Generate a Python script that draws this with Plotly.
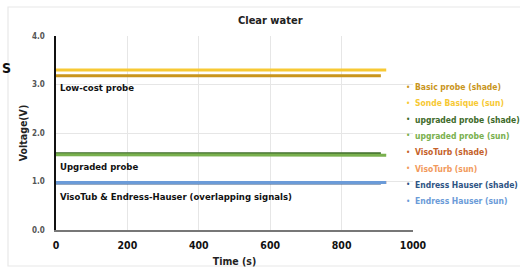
import plotly.graph_objects as go

# ---- data ----
t_shade = [0, 100, 200, 300, 400, 500, 600, 700, 800, 850, 880, 910]
t_sun = [0, 100, 200, 300, 400, 500, 600, 700, 800, 900, 925]

basic_shade = [3.18, 3.18, 3.18, 3.18, 3.18, 3.18, 3.18, 3.18, 3.17, 3.18, 3.17, 3.18]
basic_sun = [3.30, 3.30, 3.30, 3.30, 3.30, 3.30, 3.30, 3.30, 3.30, 3.30, 3.30]
upg_shade = [1.57, 1.57, 1.57, 1.57, 1.57, 1.57, 1.57, 1.57, 1.57, 1.57, 1.57, 1.57]
upg_sun = [1.55, 1.55, 1.55, 1.55, 1.55, 1.55, 1.55, 1.55, 1.55, 1.55, 1.54]
viso_shade = [0.98, 0.98, 0.98, 0.98, 0.98, 0.98, 0.98, 0.98, 0.98, 0.98, 0.98, 0.98]
viso_sun = [0.98, 0.98, 0.98, 0.98, 0.98, 0.98, 0.98, 0.98, 0.98, 0.98, 0.98]
endress_shade = [0.97, 0.97, 0.97, 0.97, 0.97, 0.97, 0.97, 0.97, 0.97, 0.97, 0.97, 0.97]
endress_sun = [0.98, 0.98, 0.98, 0.98, 0.98, 0.98, 0.98, 0.98, 0.98, 0.98, 0.98]

x_ticks = [0, 200, 400, 600, 800, 1000]
y_ticks = [0.0, 1.0, 2.0, 3.0, 4.0]
y_tick_labels = ["0.0", "1.0", "2.0", "3.0", "4.0"]

series_names = ["Basic probe (shade)", "Sonde Basique (sun)", "upgraded probe (shade)",
                "upgraded probe (sun)", "VisoTurb (shade)", "VisoTurb (sun)",
                "Endress Hauser (shade)", "Endress Hauser (sun)"]
series_t = [t_shade, t_sun, t_shade, t_sun, t_shade, t_sun, t_shade, t_sun]
series_v = [basic_shade, basic_sun, upg_shade, upg_sun, viso_shade, viso_sun,
            endress_shade, endress_sun]
series_colors = ["#C9951C", "#F7C934", "#3E6B2A", "#79B04E",
                 "#C5622A", "#F29A5C", "#2E5484", "#6B9BD8"]

FONT = "DejaVu Sans Condensed, DejaVu Sans, sans-serif"

# plot area in pixels
W, H = 520, 269
L, R, T, B = 56, 413, 36, 230


def px_x(p):
    return (p - L) / (R - L)


def px_y(p):
    return (B - p) / (B - T)


fig = go.Figure()
for name, t, v, c in zip(series_names, series_t, series_v, series_colors):
    fig.add_trace(go.Scatter(x=t, y=v, mode="lines", name=name,
                             line=dict(color=c, width=3), showlegend=False))

fig.update_layout(
    width=W, height=H,
    margin=dict(l=L, r=W - R, t=T, b=H - B, autoexpand=False),
    paper_bgcolor="white", plot_bgcolor="white",
    font=dict(family=FONT, size=10, color="#222"),
    showlegend=False,
    xaxis=dict(range=[0, 1000], tickvals=x_ticks, ticktext=[f"<b>{v}</b>" for v in x_ticks],
               showgrid=True, gridcolor="#e6e6e6",
               showline=True, linecolor="#777", linewidth=1.5, zeroline=False,
               tickfont=dict(size=10.5, color="#111", family=FONT), ticks="",
               ticklabelstandoff=5,
               title=dict(text="<b>Time (s)</b>", font=dict(size=10.5, color="#222"), standoff=7)),
    yaxis=dict(range=[0, 4.0], tickvals=y_ticks, ticktext=[f"<b>{s}</b>" for s in y_tick_labels],
               showgrid=True, gridcolor="#e6e6e6",
               showline=True, linecolor="#111", linewidth=1.5, zeroline=False,
               tickfont=dict(size=8, color="#555", family=FONT), ticks="",
               ticklabelstandoff=8,
               title=dict(text="<b>Voltage(V)</b>", font=dict(size=10.5, color="#222"), standoff=2)),
)

fig.add_annotation(text="<b>Clear water</b>", xref="paper", yref="paper",
                   x=px_x(270), y=px_y(20), xanchor="center", yanchor="middle",
                   showarrow=False, font=dict(size=11, color="#222"))

labels = [
    ("Low-cost probe", 2.93),
    ("Upgraded probe", 1.30),
    ("VisoTub & Endress-Hauser (overlapping signals)", 0.69),
]
for txt, yv in labels:
    fig.add_annotation(text=f"<b>{txt}</b>", x=5, y=yv, xref="x", yref="y",
                       xanchor="left", yanchor="middle", showarrow=False,
                       font=dict(size=9.5, color="#111"))

# legend drawn as coloured text entries at the right
for i, (name, c) in enumerate(zip(series_names, series_colors)):
    yp = 87 + i * 16.3
    fig.add_annotation(text="•", xref="paper", yref="paper", x=px_x(408), y=px_y(yp),
                       xanchor="center", yanchor="middle", showarrow=False,
                       font=dict(size=8, color=c))
    fig.add_annotation(text=f"<b>{name}</b>", xref="paper", yref="paper", x=px_x(413), y=px_y(yp),
                       xanchor="left", yanchor="middle", showarrow=False,
                       font=dict(size=8.5, color=c))

# stray cropped letter at left edge and outer frame of the source image
fig.add_annotation(text="<b>S</b>", xref="paper", yref="paper", x=px_x(6), y=px_y(68),
                   xanchor="center", yanchor="middle", showarrow=False,
                   font=dict(size=14, color="#111"))
fig.add_shape(type="rect", xref="paper", yref="paper",
              x0=px_x(8), x1=px_x(530), y0=px_y(266), y1=px_y(7),
              line=dict(color="#e8e8e8", width=1.2), fillcolor="rgba(0,0,0,0)", layer="below")

fig.write_html("out.html", config={"displayModeBar": False},
               post_script="document.body.style.margin='0';document.body.style.overflow='hidden';")
